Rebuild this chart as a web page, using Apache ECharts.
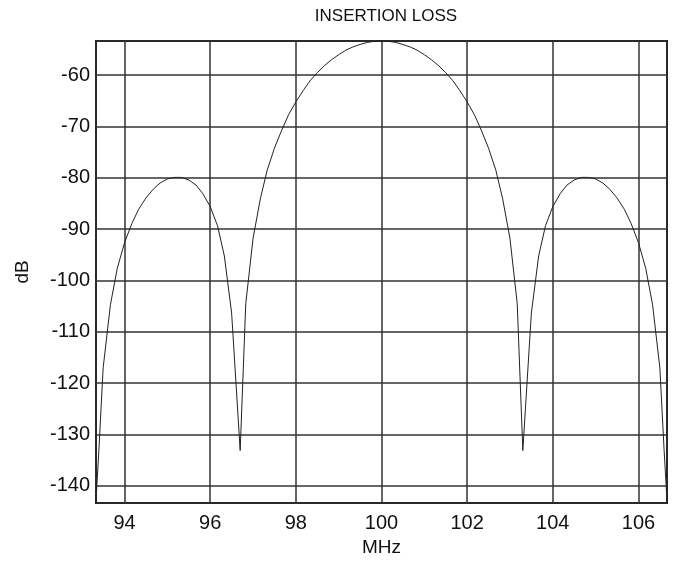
<!DOCTYPE html>
<html>
<head>
<meta charset="utf-8">
<script src="https://cdn.jsdelivr.net/npm/echarts@6/dist/echarts.min.js"></script>
<style>
  html, body { margin: 0; padding: 0; background: #fff; }
  #chart { width: 680px; height: 569px; }
</style>
</head>
<body>
<div id="chart"></div>
<script>
(function(){
  // frequency (MHz) and insertion loss (dB)
  var freq = [
    93.33, 93.40, 93.50, 93.67, 93.83, 94.00, 94.17, 94.33, 94.50, 94.67,
    94.83, 95.00, 95.17, 95.33, 95.50, 95.67, 95.83, 96.00, 96.17, 96.33,
    96.50, 96.70, 96.83, 97.00, 97.17, 97.33, 97.50, 97.67, 97.83, 98.00,
    98.17, 98.33, 98.50, 98.67, 98.83, 99.00, 99.17, 99.33, 99.50, 99.67,
    99.83, 100.00, 100.17, 100.33, 100.50, 100.67, 100.83, 101.00, 101.17, 101.33,
    101.50, 101.67, 101.83, 102.00, 102.17, 102.33, 102.50, 102.67, 102.83, 103.00,
    103.17, 103.30, 103.50, 103.67, 103.83, 104.00, 104.17, 104.33, 104.50, 104.67,
    104.83, 105.00, 105.17, 105.33, 105.50, 105.67, 105.83, 106.00, 106.17, 106.33,
    106.50, 106.60, 106.67
  ];
  var loss = [
    -143.3, -133.1, -117.0, -104.7, -97.6, -92.6, -88.9, -86.1, -83.9, -82.2,
    -81.0, -80.2, -79.9, -79.9, -80.4, -81.4, -83.1, -85.6, -89.3, -95.2,
    -106.3, -133.1, -104.5, -91.8, -84.1, -78.5, -74.2, -70.7, -67.7, -65.2,
    -63.0, -61.1, -59.5, -58.1, -57.0, -56.0, -55.1, -54.5, -54.0, -53.6,
    -53.4, -53.3, -53.4, -53.6, -54.0, -54.5, -55.1, -56.0, -57.0, -58.1,
    -59.5, -61.1, -63.0, -65.2, -67.7, -70.7, -74.2, -78.5, -84.1, -91.8,
    -104.5, -133.1, -106.3, -95.2, -89.3, -85.6, -83.1, -81.4, -80.4, -79.9,
    -79.9, -80.2, -81.0, -82.2, -83.9, -86.1, -88.9, -92.6, -97.6, -104.7,
    -117.0, -133.1, -143.3
  ];
  var xRange = [93.333, 106.667];
  var yRange = [-143.33, -53.33];

  var points = freq.map(function(f, i){ return [f, loss[i]]; });
  var font = '"Liberation Sans", Arial, sans-serif';

  var chart = echarts.init(document.getElementById('chart'));
  var option = {
    backgroundColor: '#fff',
    animation: false,
    title: {
      text: 'INSERTION LOSS',
      left: 381,
      textAlign: 'center',
      top: 3,
      textStyle: { fontFamily: font, fontSize: 17, fontWeight: 'normal', color: '#111' }
    },
    grid: {
      left: 96, right: 13, top: 41, bottom: 66,
      show: true, borderColor: '#111', borderWidth: 2, backgroundColor: '#fff'
    },
    xAxis: {
      type: 'value',
      min: xRange[0], max: xRange[1],
      splitNumber: 7,
      name: 'MHz', nameLocation: 'middle', nameGap: 35,
      nameTextStyle: { fontFamily: font, fontSize: 19, color: '#111' },
      axisLine: { show: false },
      axisTick: { show: false },
      axisLabel: { fontFamily: font, fontSize: 20, color: '#111', margin: 10,
                   showMinLabel: false, showMaxLabel: false },
      splitLine: { show: true, lineStyle: { color: '#333', width: 1.5 } }
    },
    yAxis: {
      type: 'value',
      min: yRange[0], max: yRange[1],
      splitNumber: 9,
      name: 'dB', nameLocation: 'middle', nameGap: 64,
      nameTextStyle: { fontFamily: font, fontSize: 19, color: '#111' },
      axisLine: { show: false },
      axisTick: { show: false },
      axisLabel: { fontFamily: font, fontSize: 20, color: '#111', margin: 6,
                   showMinLabel: false, showMaxLabel: false },
      splitLine: { show: true, lineStyle: { color: '#333', width: 1.5 } }
    },
    series: [{
      type: 'line',
      data: points,
      symbol: 'none',
      lineStyle: { color: '#222', width: 1 }
    }]
  };
  chart.setOption(option);
})();
</script>
</body>
</html>
